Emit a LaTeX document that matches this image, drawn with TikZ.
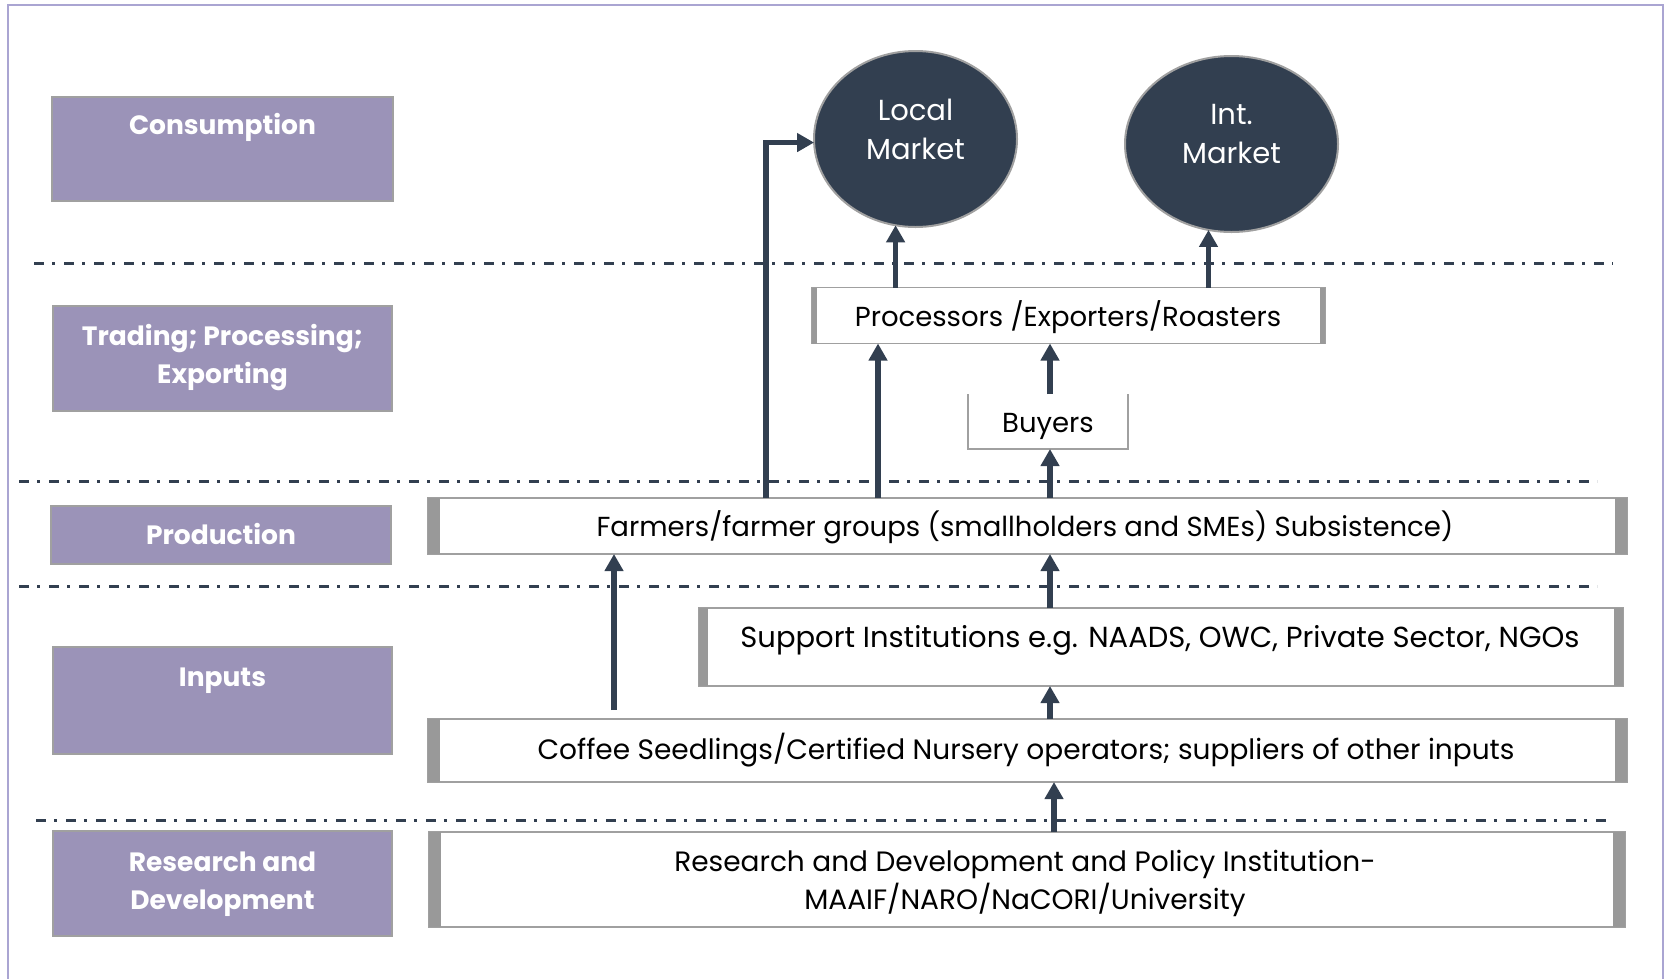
\documentclass[tikz,border=0pt]{standalone}
\usepackage{fontspec}
\setmainfont{Poppins}
\usetikzlibrary{arrows.meta,shapes.geometric}
\definecolor{navy}{RGB}{50,63,80}
\definecolor{lav}{RGB}{155,147,184}
\definecolor{frm}{RGB}{170,165,210}
\definecolor{bord}{RGB}{160,160,160}
\definecolor{barc}{RGB}{153,153,153}
\tikzset{
  sep/.style={navy,line width=3pt,dash pattern=on 10pt off 8pt on 3pt off 9pt},
  labbox/.style={rectangle,draw=bord,line width=1.5pt,fill=lav,outer sep=0pt,inner sep=0pt},
  labtxt/.style={text=white,font=\fontsize{26.5}{38}\selectfont\bfseries,align=center,inner sep=0pt},
  wbox/.style={rectangle,draw=bord,line width=1.5pt,fill=white,outer sep=0pt,inner sep=0pt},
  wtxt/.style={font=\fontsize{27.5}{38}\selectfont,align=center,inner sep=0pt},
  mkt/.style={ellipse,draw=bord,line width=2pt,fill=navy,outer sep=0pt,inner sep=0pt},
  mtxt/.style={text=white,font=\fontsize{29}{39}\selectfont,align=center,inner sep=0pt},
  arr/.style={navy,line width=5.5pt,-{Triangle[length=17pt,width=18pt]}},
}
\begin{document}
\begin{tikzpicture}[x=1pt,y=-1pt]
\useasboundingbox (0,0) rectangle (1669,978);
% frame
\draw[frm,line width=2pt] (8,985) -- (8,5) -- (1663,5) -- (1663,985);
% separators
\draw[sep] (34,263) -- (1613,263);
\draw[sep] (19,481) -- (1597,481);
\draw[sep] (19,586) -- (1597,586);
\draw[sep] (36,820) -- (1613,820);
% left labels
\node[labbox,minimum width=341pt,minimum height=104pt] (lc) at (222.5,149) {};
\node[labtxt] (tc) at (222.5,127) {Consumption};
\node[labbox,minimum width=339pt,minimum height=105pt] (lt) at (222.5,358.5) {};
\node[labtxt] (tt) at (222.5,358) {Trading; Processing;\\Exporting};
\node[labbox,minimum width=340pt,minimum height=58pt] (lp) at (221,535) {};
\node[labtxt] (tp) at (221,534) {Production};
\node[labbox,minimum width=339pt,minimum height=107pt] (li) at (222.5,700.5) {};
\node[labtxt] (ti) at (222.5,681) {Inputs};
\node[labbox,minimum width=339pt,minimum height=105pt] (lr) at (222.5,883.5) {};
\node[labtxt] (tr) at (222.5,884) {Research and\\Development};
% markets
\node[mkt,minimum width=203pt,minimum height=176pt] (lm) at (915.5,139) {};
\node[mtxt] (lmt) at (915.5,129) {Local\\Market};
\node[mkt,minimum width=213pt,minimum height=176pt] (im) at (1231.5,144) {};
\node[mtxt] (imt) at (1231.5,134) {Int.\\Market};
% white boxes
\node[wbox,minimum width=513pt,minimum height=56pt] (pr) at (1068.5,315.5) {};
\node[wtxt] (prt) at (1068,317) {Processors /Exporters/Roasters};
\fill[barc] (pr.north west) rectangle ([xshift=5pt]pr.south west);
\fill[barc] ([xshift=-5pt]pr.north east) rectangle (pr.south east);
\node[wbox,draw=none,minimum width=160pt,minimum height=55pt] (bu) at (1048,421.5) {};
\node[wtxt] (but) at (1048,426) {Buyers};
\draw[bord,line width=1.5pt] (bu.north west) -- (bu.south west) -- (bu.south east) -- (bu.north east);
\node[wbox,minimum width=1199pt,minimum height=56pt] (fa) at (1027.5,526) {};
\node[wtxt] (fat) at (1025,527) {Farmers/farmer groups (smallholders and SMEs) Subsistence)};
\fill[barc] (fa.north west) rectangle ([xshift=12pt]fa.south west);
\fill[barc] ([xshift=-12pt]fa.north east) rectangle (fa.south east);
\node[wbox,minimum width=924pt,minimum height=78pt] (su) at (1161,647) {};
\node[wtxt,font=\fontsize{29}{38}\selectfont] (sut) at (1160,640) {Support Institutions e.g. NAADS, OWC, Private Sector, NGOs};
\fill[barc] (su.north west) rectangle ([xshift=9pt]su.south west);
\fill[barc] ([xshift=-9pt]su.north east) rectangle (su.south east);
\node[wbox,minimum width=1199pt,minimum height=63pt] (co) at (1027.5,750.5) {};
\node[wtxt,font=\fontsize{28}{38}\selectfont] (cot) at (1026,750) {Coffee Seedlings/Certified Nursery operators; suppliers of other inputs};
\fill[barc] (co.north west) rectangle ([xshift=12pt]co.south west);
\fill[barc] ([xshift=-12pt]co.north east) rectangle (co.south east);
\node[wbox,minimum width=1196pt,minimum height=95pt] (re) at (1027,879.5) {};
\node[wtxt,font=\fontsize{28}{38}\selectfont] (ret) at (1025,883) {Research and Development and Policy Institution-\\MAAIF/NARO/NaCORI/University};
\fill[barc] (re.north west) rectangle ([xshift=12pt]re.south west);
\fill[barc] ([xshift=-12pt]re.north east) rectangle (re.south east);
% arrow columns
\coordinate (xA) at (766,0);
\coordinate (xB) at (878,0);
\coordinate (xC) at (1050,0);
\coordinate (xD) at (614,0);
\coordinate (xE) at (1054,0);
% arrows
\draw[arr] (fa.north -| xA) |- (lm.182);
\draw[arr] (pr.north -| lm.257.3) -- (lm.257.3);
\draw[arr] (pr.north -| im.255.3) -- (im.255.3);
\draw[arr] (fa.north -| xB) -- (pr.south -| xB);
\draw[arr] (bu.north -| xC) -- (pr.south -| xC);
\draw[arr] (fa.north -| xC) -- (bu.south -| xC);
\draw[arr,shorten <=9pt] (co.north -| xD) -- (fa.south -| xD);
\draw[arr] (su.north -| xC) -- (fa.south -| xC);
\draw[arr] (co.north -| xC) -- (su.south -| xC);
\draw[arr] (re.north -| xE) -- (co.south -| xE);
\end{tikzpicture}
\end{document}
